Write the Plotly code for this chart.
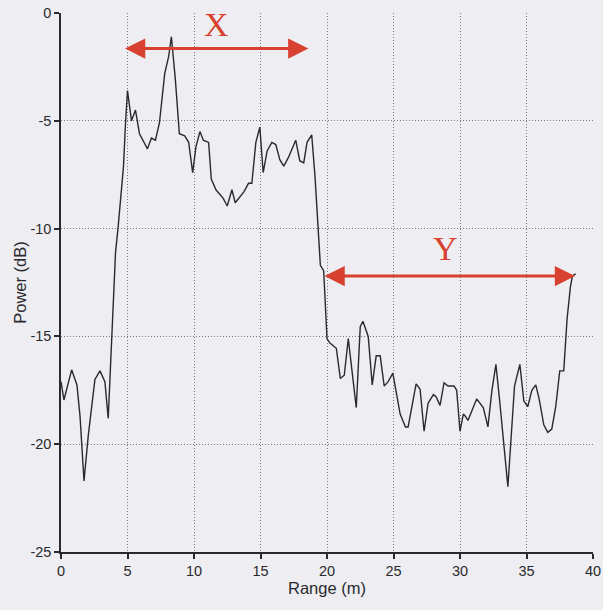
import plotly.graph_objects as go

range_m = [0.0, 0.22, 0.8, 1.2, 1.43, 1.73, 2.05, 2.55, 2.93, 3.3, 3.55, 3.8, 4.1, 4.3, 4.7, 4.85,
           5.0, 5.3, 5.6, 5.9, 6.3, 6.5, 6.8, 7.1, 7.4, 7.8, 8.1, 8.3, 8.6, 8.9, 9.3, 9.6, 9.9,
           10.15, 10.45, 10.7, 11.1, 11.3, 11.65, 11.95, 12.2, 12.5, 12.85, 13.1, 13.45, 13.75,
           14.1, 14.35, 14.65, 14.95, 15.2, 15.5, 15.85, 16.15, 16.45, 16.75, 17.1, 17.65, 17.95,
           18.25, 18.5, 18.85, 19.1, 19.5, 19.75, 20.0, 20.2, 20.7, 21.0, 21.3, 21.6, 22.2, 22.5,
           22.7, 23.1, 23.4, 23.7, 24.0, 24.3, 24.6, 24.95, 25.5, 25.9, 26.1, 26.7, 27.0, 27.3,
           27.6, 28.0, 28.2, 28.5, 28.8, 29.1, 29.55, 29.75, 30.0, 30.25, 30.4, 30.6, 31.25,
           31.75, 32.1, 32.4, 32.7, 33.0, 33.6, 34.1, 34.5, 34.8, 35.1, 35.4, 35.7, 35.95, 36.3,
           36.6, 36.9, 37.2, 37.5, 37.8, 38.05, 38.3, 38.45, 38.7]
power_db = [-17.1, -17.95, -16.55, -17.25, -18.7, -21.7, -19.6, -17.0, -16.6, -17.1, -18.8, -15.0,
            -11.1, -9.9, -7.1, -5.1, -3.6, -5.0, -4.5, -5.6, -6.1, -6.3, -5.8, -5.9, -5.1, -2.8,
            -2.0, -1.1, -3.1, -5.6, -5.7, -6.0, -7.4, -6.2, -5.5, -5.9, -6.0, -7.7, -8.2, -8.4,
            -8.6, -8.95, -8.2, -8.8, -8.5, -8.3, -7.9, -7.9, -6.0, -5.3, -7.4, -6.4, -6.0, -6.1,
            -6.8, -7.1, -6.7, -5.9, -6.85, -6.95, -6.0, -5.65, -7.6, -11.7, -11.95, -15.1, -15.3,
            -15.55, -16.95, -16.8, -15.1, -18.3, -14.55, -14.3, -15.0, -17.25, -15.9, -15.9,
            -17.3, -17.1, -16.7, -18.6, -19.2, -19.2, -17.2, -17.45, -19.4, -18.1, -17.7, -17.8,
            -18.2, -17.15, -17.3, -17.3, -17.5, -19.4, -18.6, -18.7, -18.9, -17.9, -18.3, -19.2,
            -17.5, -16.3, -18.1, -21.97, -17.3, -16.3, -18.0, -18.25, -17.5, -17.25, -17.9,
            -19.1, -19.45, -19.3, -18.25, -16.6, -16.6, -14.2, -12.7, -12.2, -12.1]

x_ticks = [0, 5, 10, 15, 20, 25, 30, 35, 40]
y_ticks = [0, -5, -10, -15, -20, -25]

# annotation spans (label, start, end, level, label position)
span_labels = ["X", "Y"]
span_start = [4.7, 19.7]
span_end = [18.6, 38.65]
span_level = [-1.65, -12.2]
label_x = [11.7, 28.9]
label_y = [-0.55, -10.9]

red = "#d8412f"
bg = "#eeeef2"
ink = "#2a2a2e"

fig = go.Figure()
fig.add_trace(go.Scatter(x=range_m, y=power_db, mode="lines",
                         line=dict(color=ink, width=1.4), showlegend=False,
                         hoverinfo="skip"))

for lab, s, e, lv, lx, ly in zip(span_labels, span_start, span_end, span_level, label_x, label_y):
    fig.add_annotation(x=e, y=lv, ax=s, ay=lv, xref="x", yref="y", axref="x", ayref="y",
                       text="", showarrow=True, arrowhead=2, startarrowhead=2,
                       arrowside="end+start", arrowsize=1.35, startarrowsize=1.35,
                       arrowwidth=3, arrowcolor=red, standoff=0, startstandoff=0)
    fig.add_annotation(x=lx, y=ly, xref="x", yref="y", text=lab, showarrow=False,
                       font=dict(family="Liberation Serif, Times New Roman, serif",
                                 size=34, color=red))

fig.update_layout(
    width=603, height=610,
    margin=dict(l=61, r=10, t=13, b=58),
    paper_bgcolor=bg, plot_bgcolor=bg,
    font=dict(family="Liberation Sans, Arial, sans-serif", size=14.5, color="#2a2a2e"),
)
fig.update_xaxes(range=[0, 40], tickvals=x_ticks, ticktext=[str(v) for v in x_ticks],
                 showgrid=True, griddash="1px,2px", gridcolor="#7a7a80", gridwidth=1,
                 showline=True, linecolor=ink, linewidth=1.5,
                 ticks="outside", ticklen=5, tickcolor=ink, tickwidth=1.5,
                 zeroline=False, automargin=False,
                 title=dict(text="Range (m)", standoff=0, font=dict(size=16.5)))
fig.update_yaxes(range=[-25, 0], tickvals=y_ticks, ticktext=[str(v) for v in y_ticks],
                 showgrid=True, griddash="1px,2px", gridcolor="#7a7a80", gridwidth=1,
                 showline=True, linecolor=ink, linewidth=1.5,
                 ticks="outside", ticklen=5, tickcolor=ink, tickwidth=1.5,
                 zeroline=False, automargin=False,
                 title=dict(text="Power (dB)", standoff=0, font=dict(size=16.5)))

fig.write_html("out.html", config={"displayModeBar": False},
               post_script="document.body.style.margin='0';"
                           "document.body.style.background='#eeeef2';")
